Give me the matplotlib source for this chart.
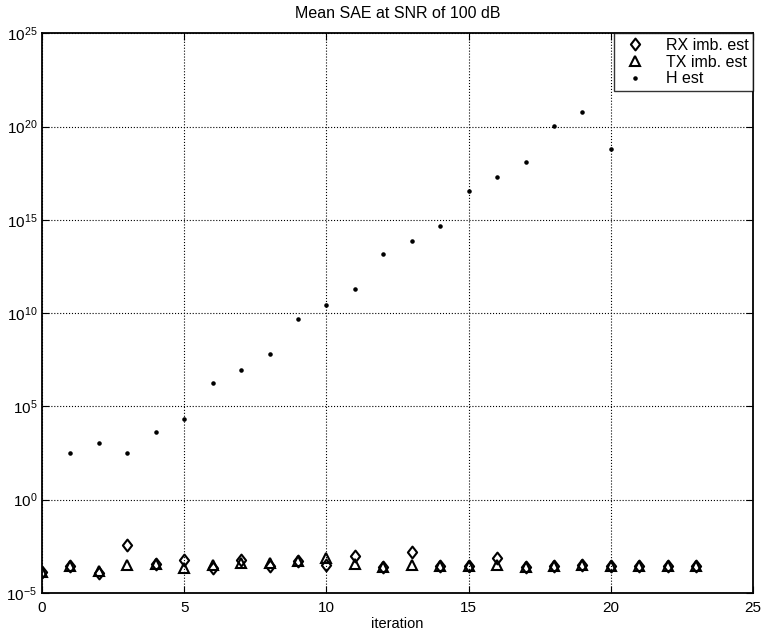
import numpy as np
import matplotlib
matplotlib.use("Agg")
import matplotlib.pyplot as plt
from matplotlib.ticker import FixedLocator, NullLocator
from matplotlib.path import Path

plt.rcParams['font.family'] = ['Liberation Sans', 'DejaVu Sans']

# iterations
iters_rx = list(range(0, 24))
iters_h = list(range(1, 21))

# log10 of mean SAE values
rx_log = [-3.86, -3.58, -3.93, -2.41, -3.43, -3.22, -3.66, -3.22, -3.58, -3.31,
          -3.48, -3.00, -3.59, -2.79, -3.58, -3.58, -3.13, -3.63, -3.58, -3.48,
          -3.58, -3.58, -3.58, -3.58]
tx_log = [-3.86, -3.58, -3.84, -3.48, -3.43, -3.64, -3.48, -3.38, -3.39, -3.31,
          -3.13, -3.43, -3.59, -3.48, -3.58, -3.58, -3.48, -3.63, -3.58, -3.48,
          -3.58, -3.58, -3.58, -3.58]
h_log = [2.52, 3.05, 2.50, 3.64, 4.32, 6.25, 6.96, 7.82, 9.69, 10.41,
         11.29, 13.19, 13.87, 14.69, 16.57, 17.30, 18.12, 20.05, 20.77, 18.78]

rx = 10.0 ** np.array(rx_log)
tx = 10.0 ** np.array(tx_log)
h = 10.0 ** np.array(h_log)

diamond = Path([(0, 1), (0.78, 0), (0, -1), (-0.78, 0), (0, 1)],
               [Path.MOVETO, Path.LINETO, Path.LINETO, Path.LINETO, Path.CLOSEPOLY])

fig = plt.figure(figsize=(7.63, 6.39), dpi=100)
ax = fig.add_axes([0.055, 0.072, 0.932, 0.876])

ax.semilogy(iters_rx, rx, linestyle='none', marker=diamond, markersize=8.5,
            markerfacecolor='none', markeredgecolor='black', markeredgewidth=1.5,
            label='RX imb. est')
ax.semilogy(iters_rx, tx, linestyle='none', marker='^', markersize=7,
            markerfacecolor='none', markeredgecolor='black', markeredgewidth=1.5,
            label='TX imb. est')
ax.semilogy(iters_h, h, linestyle='none', marker='.', markersize=4.5,
            color='black', label='H est')

ax.set_xlim(0, 25)
ax.set_ylim(1e-5, 1e25)
ax.set_xticks([0, 5, 10, 15, 20, 25])
ax.yaxis.set_major_locator(FixedLocator([1e-5, 1e0, 1e5, 1e10, 1e15, 1e20, 1e25]))
ax.yaxis.set_minor_locator(NullLocator())
ax.grid(True, which='major', linestyle=':', color='black', linewidth=0.8)

ax.tick_params(direction='in', top=True, right=True, labelsize=11, length=5)
ax.tick_params(axis='x', pad=6)
for s in ax.spines.values():
    s.set_linewidth(1.3)

ax.set_title('Mean SAE at SNR of 100 dB', fontsize=11.5, pad=11)
ax.set_xlabel('iteration', fontsize=10.5, labelpad=1)

leg = ax.legend(loc='upper right', fontsize=11.5, frameon=True, fancybox=False,
                edgecolor='black', borderaxespad=0.0, handletextpad=0.9,
                handlelength=2.0, labelspacing=0.1, borderpad=0.3)
leg.get_frame().set_linewidth(1.0)

fig.savefig('out.png', dpi=100, facecolor='white')
